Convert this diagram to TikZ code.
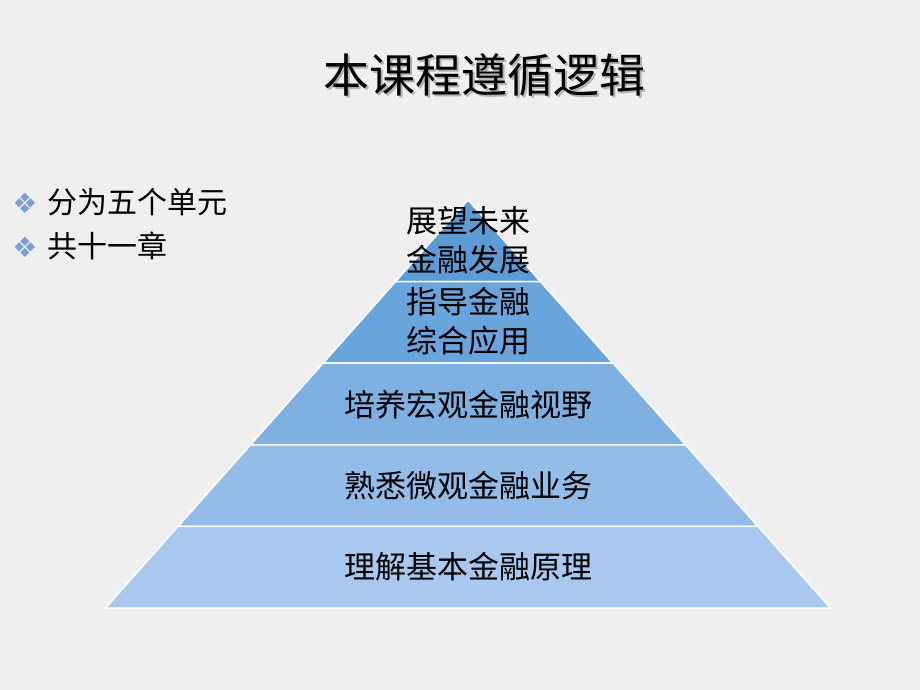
\documentclass[tikz,border=0pt]{standalone}
\usepackage{fontspec}
\setmainfont{Noto Sans CJK SC}
\newfontfamily\symfont{DejaVu Sans}
\definecolor{slidebg}{HTML}{EFEFEF}
\definecolor{bandA}{HTML}{5C9BD5}
\definecolor{bandB}{HTML}{6AA4DC}
\definecolor{bandC}{HTML}{7FB0E2}
\definecolor{bandD}{HTML}{93BCE9}
\definecolor{bandE}{HTML}{A8C8EF}
\definecolor{bulletblue}{HTML}{7C9DD6}

\def\apexX{468}
\def\apexY{200}
\def\bandH{81.6}
\def\bandW{72.5}

\begin{document}
\begin{tikzpicture}[x=1pt, y=-1pt,
    bandtext/.style={align=center, inner sep=0pt, font=\fontsize{31}{39}\selectfont},
    bullettext/.style={anchor=west, inner sep=0pt, font=\fontsize{30}{36}\selectfont},
    bulletmark/.style={inner sep=0pt, text=bulletblue, font=\symfont\fontsize{28}{28}\selectfont}]
  \useasboundingbox (0,0) rectangle (920,690);
  \fill[slidebg] (0,0) rectangle (920,690);

  % title with its soft shadow
  \node[gray!60, font=\fontsize{46}{46}\selectfont, inner sep=0pt] at (486,77) {本课程遵循逻辑};
  \node (title) [font=\fontsize{46}{46}\selectfont, inner sep=0pt] at (484,75) {本课程遵循逻辑};

  % bullets
  \node (markA) [bulletmark] at (25,203) {❖};
  \node (itemA) [bullettext] at (47,202) {分为五个单元};
  \node (markB) [bulletmark] at (25,247) {❖};
  \node (itemB) [bullettext] at (47,246) {共十一章};

  % pyramid bands, top to bottom
  \foreach \k/\col in {0/bandA,1/bandB,2/bandC,3/bandD,4/bandE} {
      \pgfmathsetmacro\yTop{\apexY+\bandH*\k}
      \pgfmathsetmacro\yBot{\apexY+\bandH*(\k+1)}
      \pgfmathsetmacro\wTop{\bandW*\k}
      \pgfmathsetmacro\wBot{\bandW*(\k+1)}
      \filldraw[fill=\col, draw=white, line width=1.5pt, line join=round]
        (\apexX-\wTop,\yTop) -- (\apexX+\wTop,\yTop) -- (\apexX+\wBot,\yBot)
        -- (\apexX-\wBot,\yBot) -- cycle;
  }

  \node (future) [bandtext] at (468,240) {展望未来\\金融发展};
  \node (apply) [bandtext] at (468,321) {指导金融\\综合应用};
  \node (macro) [bandtext] at (468,405) {培养宏观金融视野};
  \node (micro) [bandtext] at (468,486) {熟悉微观金融业务};
  \node (basic) [bandtext] at (468,567) {理解基本金融原理};
\end{tikzpicture}
\end{document}
